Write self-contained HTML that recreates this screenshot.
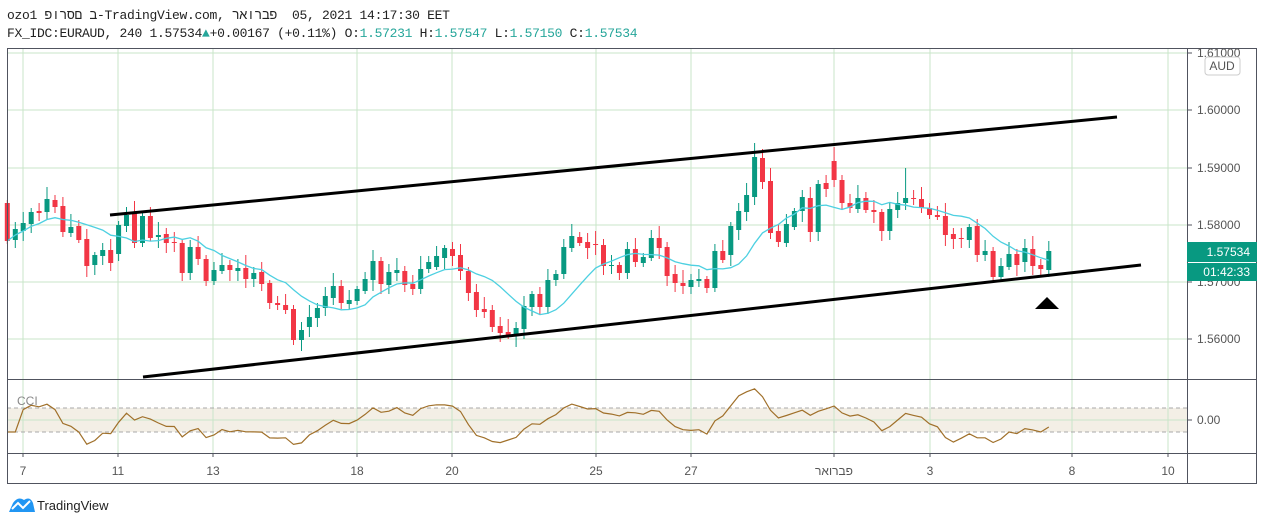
<!DOCTYPE html>
<html><head><meta charset="utf-8"><style>
body{margin:0;background:#fff;width:1265px;height:525px;overflow:hidden;font-family:"Liberation Sans",sans-serif}
.hd{position:absolute;left:7px;font-family:"Liberation Mono","Noto Sans CJK SC",monospace;font-size:13px;color:#222;white-space:pre;letter-spacing:-0.3px;direction:ltr;unicode-bidi:bidi-override}
.g{color:#26a69a}
</style></head><body>
<div class="hd" style="top:8px">ozo1 פורסם ב-TradingView.com, ראורבפ  05, 2021 14:17:30 EET</div>
<div class="hd" style="top:26px">FX_IDC:EURAUD, 240 1.57534<span class="g">▲</span>+0.00167 (+0.11%) O:<span class="g">1.57231</span> H:<span class="g">1.57547</span> L:<span class="g">1.57150</span> C:<span class="g">1.57534</span></div>
<svg id="s" width="1265" height="525" style="position:absolute;left:0;top:0" xmlns="http://www.w3.org/2000/svg"></svg>
<script>
var s=document.getElementById('s'),h='';
function L(x1,y1,x2,y2,c,w,d){h+='<line x1="'+x1+'" y1="'+y1+'" x2="'+x2+'" y2="'+y2+'" stroke="'+c+'" stroke-width="'+(w||1)+'"'+(d?' stroke-dasharray="'+d+'"':'')+'/>';}
function T(x,y,t,a,c,sz){h+='<text x="'+x+'" y="'+y+'" font-size="'+(sz||12)+'" fill="'+(c||'#555')+'" text-anchor="'+(a||'start')+'" font-family="Liberation Sans,sans-serif">'+t+'</text>';}
h+='<rect x="7" y="408" width="1180" height="24" fill="#f3efe6"/>';
var gx=[23,118,213,357,452,596,691,834,930,1072,1168];
gx.forEach(function(x){L(x,48,x,453,'#c8e6c9');});
[53,110,168,225,282,339].forEach(function(y){L(7,y,1187,y,'#c8e6c9');});
L(7,420,1187,420,'#c8e6c9');
L(7,408,1187,408,'#aaa',1,'4 3');L(7,432,1187,432,'#aaa',1,'4 3');
var c=[[203,241],[240,229],[231,223],[224,212],[211,213],[212,199],[200,207],[206,232],[233,227],[226,240],[239,266],[265,255],[256,250],[250,263],[254,225],[226,215],[213,243],[243,216],[216,238],[237,235],[234,243],[242,243],[243,273],[273,247],[247,259],[259,281],[281,270],[271,265],[265,270],[271,268],[268,279],[279,273],[272,284],[283,303],[303,305],[305,310],[309,340],[340,330],[327,317],[318,308],[308,296],[298,286],[286,303],[304,300],[301,289],[291,279],[280,261],[261,284],[285,272],[273,270],[271,285],[284,289],[289,269],[269,262],[267,256],[258,248],[249,256],[255,271],[271,293],[292,310],[309,312],[310,327],[326,333],[332,336],[336,328],[329,306],[307,294],[294,307],[307,280],[280,274],[274,247],[248,236],[237,243],[242,248],[244,245],[245,266],[266,265],[265,273],[273,249],[249,262],[263,257],[258,238],[238,248],[247,276],[274,283],[283,286],[287,280],[281,279],[279,288],[288,251],[251,260],[255,226],[230,211],[212,195],[197,157],[158,182],[181,233],[231,242],[243,224],[227,211],[211,197],[198,232],[232,184],[183,189],[161,180],[180,203],[203,208],[209,198],[198,210],[210,212],[212,231],[231,209],[210,203],[203,198],[198,199],[199,208],[208,215],[215,217],[216,235],[234,239],[238,239],[240,227],[226,255],[255,251],[251,277],[277,266],[267,254],[254,265],[262,248],[249,266],[265,269],[270,251]];
var hi=[],lo=[],cl=[],xs=[];
c.forEach(function(d,i){
 var x=7.3+i*7.95,o=d[0],cc=d[1],up=cc<o,col=up?'#089981':'#f23645';
 var t=Math.min(o,cc),b=Math.max(o,cc);
 var wt=t-(3+((i*37)%11)),wb=b+(3+((i*53)%9));
 if(i==94)wt=143;if(i==104)wt=147;if(i==113)wt=168;if(i==36)wb=345;if(i==62)wb=342;if(i==1)wb=248;
 L(x.toFixed(1),wt,x.toFixed(1),wb,col,1);
 h+='<rect x="'+(x-2.5).toFixed(1)+'" y="'+t+'" width="5" height="'+Math.max(1,b-t)+'" fill="'+col+'"/>';
 hi.push(wt);lo.push(wb);cl.push(cc);xs.push(x);
});
var p='';
cl.forEach(function(v,i){var n=Math.min(i+1,10),sm=0;for(var k=i-n+1;k<=i;k++)sm+=cl[k];sm/=n;p+=(i?'L':'M')+xs[i].toFixed(1)+' '+(sm).toFixed(1);});
h+='<path d="'+p+'" fill="none" stroke="#4dd0e1" stroke-width="1.3"/>';
var q='';
for(var i=0;i<cl.length;i++){var n=Math.min(i+1,20),tp=[];for(var k=i-n+1;k<=i;k++)tp.push(-(hi[k]+lo[k]+cl[k])/3);
 var m=tp.reduce(function(a,b){return a+b},0)/n,md=tp.reduce(function(a,b){return a+Math.abs(b-m)},0)/n||1;
 var v=(tp[tp.length-1]-m)/(0.015*md);if(n<3)v=-100;v=Math.max(-260,Math.min(260,v));
 q+=(i?'L':'M')+xs[i].toFixed(1)+' '+(420-v*0.12).toFixed(1);}
h+='<path d="'+q+'" fill="none" stroke="#a0702a" stroke-width="1.2"/>';
T(17,405,'CCI','start','#888',12);
L(110,215,1117,117,'#000',3);L(143,377,1141,265,'#000',3);
h+='<polygon points="1035,309 1059,309 1047,297" fill="#000"/>';
h+='<rect x="7.5" y="48.5" width="1249" height="435" fill="none" stroke="#50535e"/>';
L(1187.5,48,1187.5,484,'#50535e');L(7,379.5,1257,379.5,'#50535e');L(7,453.5,1257,453.5,'#50535e');
[[53,'1.61000'],[110,'1.60000'],[168,'1.59000'],[225,'1.58000'],[282,'1.57000'],[339,'1.56000']].forEach(function(a){L(1187,a[0],1192,a[0],'#50535e');T(1197,a[0]+4,a[1]);});
L(1187,420,1192,420,'#50535e');T(1197,424,'0.00');
h+='<rect x="1205" y="57" width="35" height="18" rx="3" fill="#fff" stroke="#ccc"/>';T(1222,70,'AUD','middle','#555',12);
h+='<rect x="1187" y="242" width="70" height="20" fill="#089981"/>';T(1250,256,'1.57534','end','#fff',12);
h+='<rect x="1187" y="263" width="70" height="18" fill="#089981"/>';T(1250,276,'01:42:33','end','#fff',12);
var tl=['7','11','13','18','20','25','27','פברואר','3','8','10'];
gx.forEach(function(x,i){L(x,453,x,457,'#50535e');T(x,475,tl[i],'middle','#555',12);});
h+='<path d="M9 512 L13 503 Q18 496 24 500 Q30 496 33 503 L35 512 Z" fill="#2196f3"/><path d="M12 509 L18 503 L23 508 L30 501" stroke="#fff" stroke-width="2" fill="none"/>';
T(37,510,'TradingView','start','#222',13);
s.innerHTML=h;
</script>
</body></html>
